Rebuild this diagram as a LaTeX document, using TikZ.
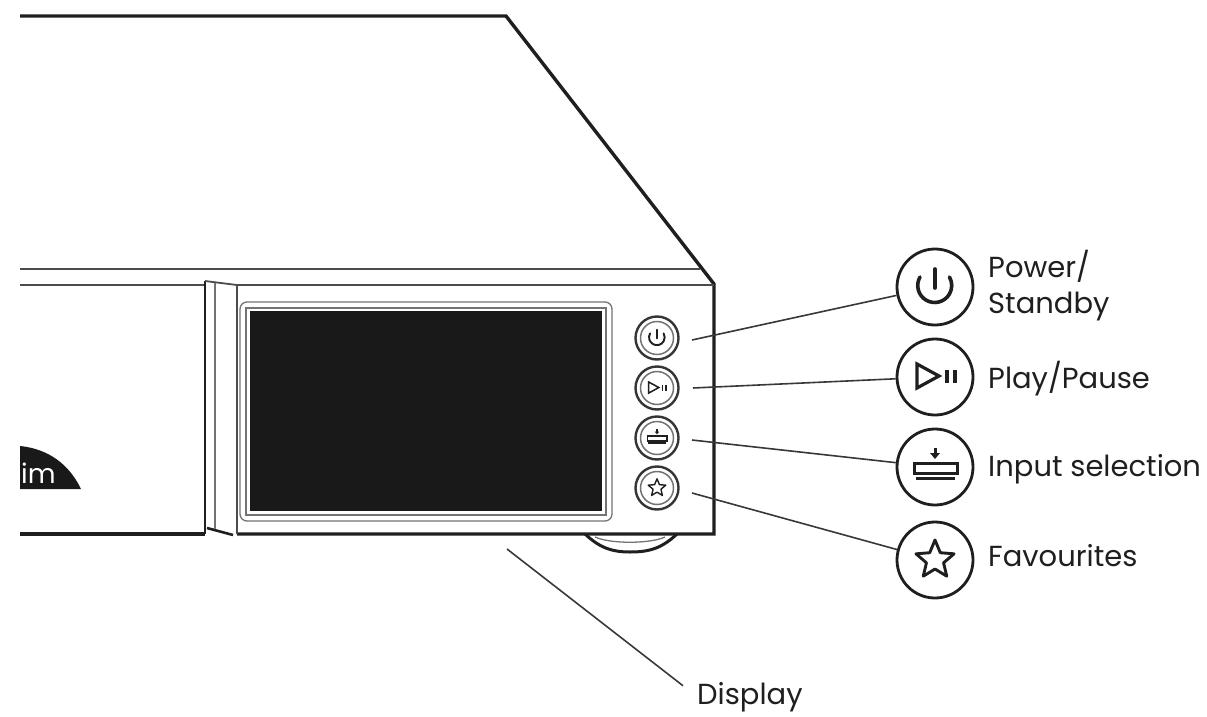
\documentclass[tikz,border=0pt]{standalone}
\usepackage{fontspec}
\setmainfont{Poppins}
\colorlet{lineDark}{black!88}
\colorlet{lineGray}{black!55}
\colorlet{screenColor}{black!90}
\tikzset{
outerLine/.style={lineDark,line width=3.4pt,line join=miter},
thinLine/.style={black!70,line width=1.8pt},
grayLine/.style={lineGray,line width=1.3pt},
leaderLine/.style={black!78,line width=1.6pt},
bigButton/.style={circle,draw=lineDark,line width=2.8pt,minimum size=76pt,inner sep=0pt,fill=white},
smallButton/.style={circle,draw=lineDark!90,line width=2.4pt,minimum size=43pt,inner sep=0pt,fill=white},
smallRing/.style={circle,draw=lineGray,line width=1.5pt,minimum size=33pt,inner sep=0pt},
labelText/.style={font=\fontsize{29}{35}\selectfont,anchor=base west,inner sep=0pt,text=lineDark},
iconStroke/.style={draw=lineDark,line width=#1},
pics/powerIcon/.style={code={
\draw[iconStroke=#1,line cap=round] (-15,-10) arc (210:-30:17);
\draw[iconStroke=#1,line cap=round] (0,-18) -- (0,1);
}},
pics/playIcon/.style={code={
\draw[iconStroke=#1,line join=miter] (-18,-13) -- (-18,11) -- (4,-1) -- cycle;
\draw[iconStroke=#1] (12,-7) -- (12,6) (20,-7) -- (20,6);
}},
pics/inputIcon/.style={code={
\draw[iconStroke=#1] (-21,-4) rectangle (22,6);
\draw[iconStroke=#1] (-19,11) -- (20,11);
\draw[iconStroke=#1] (0,-19) -- (0,-14);
\fill[lineDark] (-5,-14) -- (5,-14) -- (0,-8) -- cycle;
}},
pics/starIcon/.style={code={
\draw[iconStroke=#1,line join=round] (-90:20) -- (-54:9) -- (-18:20) -- (18:9) -- (54:20) -- (90:9) -- (126:20) -- (162:9) -- (198:20) -- (234:9) -- cycle;
}},
smallIcon/.style={scale=.46}
}
\begin{document}
\begin{tikzpicture}[x=1pt,y=-1pt]
\useasboundingbox (0,0) rectangle (1207,717);
% foot under the unit
\draw[lineDark,line width=3pt] (585,534) .. controls (600,548) and (612,552) .. (630,552) .. controls (650,552) and (662,548) .. (677,534);
\draw[grayLine] (595,537) .. controls (610,544) and (650,544) .. (665,537);
% body
\draw[outerLine] (20,16) -- (506,16) -- (714,284) -- (714,534) -- (237,534);
\draw[outerLine] (20,534) -- (205,534);
\draw[thinLine] (20,269) -- (700,269);
\draw[thinLine] (20,285) -- (205,285);
\draw[thinLine] (237,285) -- (714,285);
% front bezel
\draw[lineDark,line width=2.6pt] (205,281) -- (205,534);
\draw[thinLine] (205,281) -- (237,285) -- (237,534);
\draw[lineDark,line width=2.6pt] (207,528) -- (233,535);
\draw[grayLine] (215,283) -- (215,529);
% logo
\fill[screenColor] (20,446) .. controls (50,449) and (70,466) .. (81,489) -- (20,489) -- cycle;
\node[font=\fontsize{27}{32}\selectfont,text=white,anchor=base west,inner sep=0pt] (logoText) at (21,483) {im};
% display
\draw[grayLine,rounded corners=7pt] (240,302) rectangle (612,521);
\draw[grayLine,fill=white] (246,308) rectangle (606,515);
\fill[screenColor] (250,311) rectangle (602,511);
% small buttons
\node[smallButton] (powerSmall) at (657,338) {};
\node[smallButton] (playSmall) at (657,388) {};
\node[smallButton] (inputSmall) at (657,438) {};
\node[smallButton] (starSmall) at (657,488) {};
\node[smallRing] (powerRing) at (powerSmall) {};
\node[smallRing] (playRing) at (playSmall) {};
\node[smallRing] (inputRing) at (inputSmall) {};
\node[smallRing] (starRing) at (starSmall) {};
\pic[smallIcon] at (powerSmall) {powerIcon=1.9pt};
\pic[smallIcon] at (playSmall) {playIcon=1.5pt};
\pic[smallIcon] at (inputSmall) {inputIcon=1.5pt};
\pic[smallIcon] at (starSmall) {starIcon=1.4pt};
% big buttons
\node[bigButton] (powerBig) at (935,287) {};
\node[bigButton] (playBig) at (935,377) {};
\node[bigButton] (inputBig) at (935,467) {};
\node[bigButton] (starBig) at (935,560) {};
\pic at (powerBig) {powerIcon=3.6pt};
\pic at (playBig) {playIcon=3.2pt};
\pic at (inputBig) {inputIcon=3pt};
\pic at (starBig) {starIcon=2.9pt};
% leaders
\coordinate (powerStart) at (692,340);
\coordinate (playStart) at (693,388);
\coordinate (inputStart) at (692,440);
\coordinate (starStart) at (692,493);
\coordinate (displayStart) at (507,549);
\draw[leaderLine] (powerStart) -- (powerBig);
\draw[leaderLine] (playStart) -- (playBig);
\draw[leaderLine] (inputStart) -- (inputBig);
\draw[leaderLine] (starStart) -- (starBig);
% labels
\node[labelText] (powerLabel) at (988,277) {Power/};
\node[labelText] (standbyLabel) at (988,313) {Standby};
\node[labelText] (playLabel) at (988,388) {Play/Pause};
\node[labelText] (inputLabel) at (988,476) {Input selection};
\node[labelText] (starLabel) at (988,566) {Favourites};
\node[labelText] (displayLabel) at (697,704) {Display};
\draw[leaderLine] (displayStart) -- ([shift={(-14,-11)}]displayLabel.west);
\end{tikzpicture}
\end{document}
